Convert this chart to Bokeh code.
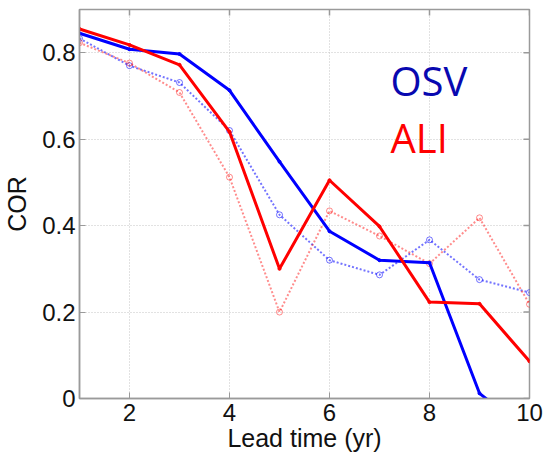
import math
from bokeh.plotting import figure
from bokeh.models import Range1d, FixedTicker, Label
from bokeh.embed import file_html
from bokeh.resources import INLINE

lead = [1, 2, 3, 4, 5, 6, 7, 8, 9, 10]
osv_solid = [0.845, 0.808, 0.797, 0.713, 0.548, 0.387, 0.320, 0.314, 0.012, -0.08]
ali_solid = [0.855, 0.818, 0.772, 0.617, 0.300, 0.505, 0.398, 0.223, 0.219, 0.086]
osv_dot = [0.833, 0.770, 0.731, 0.620, 0.425, 0.320, 0.286, 0.367, 0.275, 0.245]
ali_dot = [0.823, 0.776, 0.708, 0.512, 0.200, 0.434, 0.376, 0.312, 0.418, 0.218]

x_ticks = [2, 4, 6, 8, 10]
y_ticks = [0, 0.2, 0.4, 0.6, 0.8]
y_tick_labels = ["0", "0.2", "0.4", "0.6", "0.8"]
x_min, x_max = 1, 10
y_min, y_max = 0, 0.9

BLUE = "#0000ff"
RED = "#ff0000"
GRAY = "#9a9a9a"
FONT = "Liberation Sans"

p = figure(width=544, height=454, output_backend="svg", toolbar_location=None,
           x_range=Range1d(x_min, x_max), y_range=Range1d(y_min, y_max),
           min_border_left=79, min_border_right=15, min_border_top=9, min_border_bottom=55)

p.outline_line_color = GRAY
p.outline_line_width = 1.5
p.background_fill_color = "white"
p.border_fill_color = "white"

for g in (p.xgrid, p.ygrid):
    g.grid_line_color = "#c4c4c4"
    g.grid_line_dash = "1 2"
    g.grid_line_width = 1
p.xgrid.ticker = FixedTicker(ticks=x_ticks)
p.ygrid.ticker = FixedTicker(ticks=y_ticks)

p.xaxis.ticker = FixedTicker(ticks=x_ticks)
p.yaxis.ticker = FixedTicker(ticks=y_ticks)
p.yaxis.major_label_overrides = {t: l for t, l in zip(y_ticks, y_tick_labels)}

for ax in (p.xaxis[0], p.yaxis[0]):
    ax.axis_line_color = GRAY
    ax.axis_line_width = 1.5
    ax.major_tick_line_color = GRAY
    ax.major_tick_in = 6
    ax.major_tick_out = 0
    ax.minor_tick_line_color = None
    ax.major_label_text_font = FONT
    ax.major_label_text_font_size = "24px"
    ax.major_label_text_color = "#111111"
    ax.axis_label_text_font = FONT
    ax.axis_label_text_font_size = "25px"
    ax.axis_label_text_font_style = "normal"
    ax.axis_label_text_color = "#111111"

p.xaxis.axis_label = "Lead time (yr)"
p.yaxis.axis_label = "COR"
p.xaxis.major_label_standoff = 5
p.xaxis.axis_label_standoff = 0
p.yaxis.major_label_standoff = 4
p.yaxis.axis_label_standoff = 8

# mirrored ticks on top and right (clipped to the frame, so only the inner half shows)
p.scatter(x_ticks, [y_max] * len(x_ticks), marker="dash", size=12, angle=math.pi / 2,
          line_color=GRAY, line_width=1.5)
p.scatter([x_max] * len(y_ticks), y_ticks, marker="dash", size=12,
          line_color=GRAY, line_width=1.5)

# dotted series
p.line(lead, osv_dot, line_color=BLUE, line_width=2, line_dash="2 2", line_alpha=0.55)
p.scatter(lead, osv_dot, marker="circle", size=6, fill_color=None, line_color=BLUE,
          line_alpha=0.55, line_width=1)
p.line(lead, ali_dot, line_color=RED, line_width=2, line_dash="2 2", line_alpha=0.45)
p.scatter(lead, ali_dot, marker="circle", size=6, fill_color=None, line_color=RED,
          line_alpha=0.45, line_width=1)

# solid series
p.line(lead, osv_solid, line_color=BLUE, line_width=3)
p.scatter(lead, osv_solid, marker="circle", size=3, fill_color=BLUE, line_color=BLUE)
p.line(lead, ali_solid, line_color=RED, line_width=3)
p.scatter(lead, ali_solid, marker="circle", size=3, fill_color=RED, line_color=RED)

p.add_layout(Label(x=7.22, y=0.735, text="OSV", text_font="Open Sans", text_font_size="40px",
                   text_color="#0808b0", text_baseline="alphabetic"))
p.add_layout(Label(x=7.22, y=0.603, text="ALI", text_font="Open Sans", text_font_size="40px",
                   text_color=RED, text_baseline="alphabetic"))

open("out.html", "w").write(file_html(p, INLINE))
